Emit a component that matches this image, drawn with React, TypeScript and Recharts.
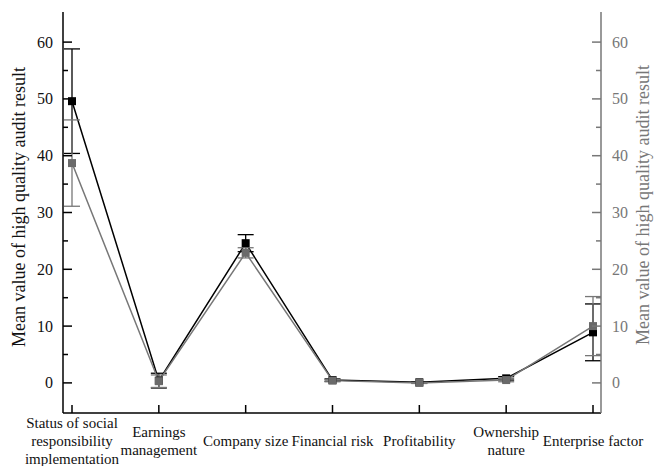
import React from 'react';
import { ComposedChart, Line, XAxis, YAxis, ErrorBar } from 'recharts';

const categories = [
  'Status of social\nresponsibility\nimplementation',
  'Earnings\nmanagement',
  'Company size',
  'Financial risk',
  'Profitability',
  'Ownership\nnature',
  'Enterprise factor',
];
const blackValues = [49.6, 0.4, 24.6, 0.5, 0.1, 0.8, 8.9];
const blackErrors = [9.2, 1.3, 1.5, 0.2, 0.1, 0.3, 5.0];
const grayValues = [38.7, 0.3, 22.9, 0.4, 0.0, 0.5, 10.0];
const grayErrors = [7.6, 1.1, 0.9, 0.2, 0.1, 0.3, 5.2];
const yTicks = [0, 5, 10, 15, 20, 25, 30, 35, 40, 45, 50, 55, 60];

const GRAY = '#777777';
const FONT = "'Liberation Serif', 'DejaVu Serif', serif";
const TITLE = 'Mean value of high quality audit result';

const data = categories.map((name, i) => ({
  name,
  black: blackValues[i],
  blackErr: blackErrors[i],
  gray: grayValues[i],
  grayErr: grayErrors[i],
}));

const XTick = ({ x, y, payload }: any) => {
  const lines = String(payload.value).split('\n');
  const first = y + 28 - (lines.length - 1) * 9;
  return (
    <g>
      <line x1={x} x2={x} y1={y} y2={y - 8} stroke="#000" strokeWidth={1.5} />
      {lines.map((l, i) => (
        <text key={i} x={x} y={first + i * 18} textAnchor="middle" dominantBaseline="central"
          style={{ fontFamily: FONT, fontSize: 15 }} fill="#111">{l}</text>
      ))}
    </g>
  );
};

const LeftTick = ({ x, y, payload }: any) => {
  const major = payload.value % 10 === 0;
  return (
    <g>
      <line x1={x} x2={x + (major ? 9 : 5)} y1={y} y2={y} stroke="#000" strokeWidth={1.5} />
      {major && (
        <text x={x - 10} y={y} textAnchor="end" dominantBaseline="central"
          style={{ fontFamily: FONT, fontSize: 16 }} fill="#111">{payload.value}</text>
      )}
    </g>
  );
};

const RightTick = ({ x, y, payload }: any) => {
  const major = payload.value % 10 === 0;
  return (
    <g>
      <line x1={x} x2={x - (major ? 9 : 5)} y1={y} y2={y} stroke={GRAY} strokeWidth={1.5} />
      {major && (
        <text x={x + 11} y={y} textAnchor="start" dominantBaseline="central"
          style={{ fontFamily: FONT, fontSize: 16 }} fill={GRAY}>{payload.value}</text>
      )}
    </g>
  );
};

const square = (color: string) => (props: any) => {
  const { cx, cy, index } = props;
  return <rect key={`${color}-${index}`} x={cx - 4} y={cy - 4} width={8} height={8} fill={color} />;
};

export default function App() {
  return (
    <div style={{ position: 'absolute', left: 0, top: 0, width: 662, height: 466, background: '#fff', fontFamily: FONT }}>
      <ComposedChart width={662} height={466} data={data} margin={{ top: 12, right: 0, bottom: 0, left: 0 }}>
        <XAxis
          dataKey="name"
          height={53}
          interval={0}
          padding={{ left: 9, right: 8 }}
          axisLine={{ stroke: '#000', strokeWidth: 1.5 }}
          tickLine={false}
          tickSize={0}
          tickMargin={0}
          tick={<XTick />}
        />
        <XAxis xAxisId="top" orientation="top" dataKey="name" height={0} tick={false} tickLine={false}
          axisLine={{ stroke: '#000', strokeWidth: 1.5 }} />
        <YAxis
          yAxisId="left"
          width={63}
          type="number"
          domain={[-5.3, 65.3]}
          ticks={yTicks}
          interval={0}
          allowDataOverflow
          axisLine={{ stroke: '#000', strokeWidth: 1.5 }}
          tickLine={false}
          tickSize={0}
          tickMargin={0}
          tick={<LeftTick />}
          label={{
            content: () => (
              <text x={19} y={207} transform="rotate(-90 19 207)" textAnchor="middle" dominantBaseline="central"
                style={{ fontFamily: FONT, fontSize: 18 }} fill="#111">{TITLE}</text>
            ),
          }}
        />
        <YAxis
          yAxisId="right"
          orientation="right"
          width={61}
          type="number"
          domain={[-5.3, 65.3]}
          ticks={yTicks}
          interval={0}
          allowDataOverflow
          axisLine={{ stroke: GRAY, strokeWidth: 1.5 }}
          tickLine={false}
          tickSize={0}
          tickMargin={0}
          tick={<RightTick />}
          label={{
            content: () => (
              <text x={643} y={205} transform="rotate(-90 643 205)" textAnchor="middle" dominantBaseline="central"
                style={{ fontFamily: FONT, fontSize: 18 }} fill={GRAY}>{TITLE}</text>
            ),
          }}
        />
        <Line yAxisId="left" dataKey="black" stroke="#000" strokeWidth={1.5} dot={square('#000')}
          activeDot={false} isAnimationActive={false}>
          <ErrorBar dataKey="blackErr" width={8} stroke="#000" strokeWidth={1.3} direction="y" />
        </Line>
        <Line yAxisId="left" dataKey="gray" stroke={GRAY} strokeWidth={1.5} dot={square('#6a6a6a')}
          activeDot={false} isAnimationActive={false}>
          <ErrorBar dataKey="grayErr" width={8} stroke={GRAY} strokeWidth={1.3} direction="y" />
        </Line>
      </ComposedChart>
    </div>
  );
}
